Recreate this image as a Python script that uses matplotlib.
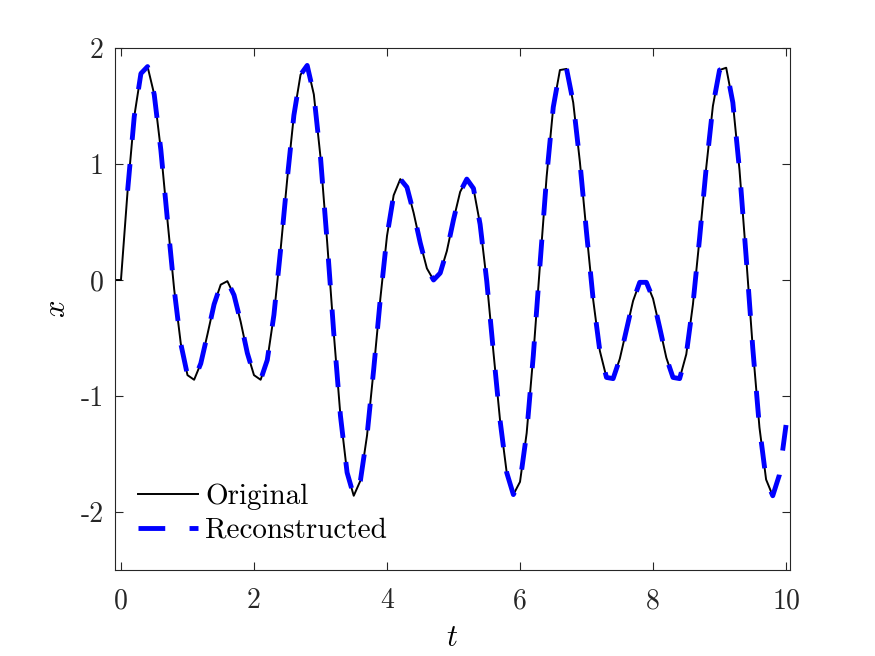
import numpy as np
import matplotlib
matplotlib.use("Agg")
import matplotlib.pyplot as plt

t_grid = np.round(np.arange(0, 101) * 0.1, 1)
x_vals = [0.00, 0.77, 1.41, 1.78, 1.84, 1.60, 1.12, 0.51, -0.08, -0.55,
          -0.82, -0.86, -0.72, -0.47, -0.21, -0.04, -0.01, -0.13, -0.36, -0.63,
          -0.82, -0.86, -0.69, -0.30, 0.26, 0.87, 1.42, 1.77, 1.85, 1.60,
          1.06, 0.33, -0.46, -1.17, -1.66, -1.86, -1.73, -1.34, -0.77, -0.16,
          0.38, 0.73, 0.87, 0.80, 0.58, 0.32, 0.10, 0.00, 0.06, 0.25,
          0.52, 0.76, 0.87, 0.79, 0.48, -0.01, -0.62, -1.21, -1.66, -1.85,
          -1.74, -1.32, -0.65, 0.13, 0.89, 1.49, 1.81, 1.82, 1.53, 1.02,
          0.41, -0.17, -0.61, -0.84, -0.85, -0.68, -0.43, -0.18, -0.02, -0.02,
          -0.16, -0.41, -0.67, -0.84, -0.85, -0.64, -0.21, 0.36, 0.97, 1.50,
          1.81, 1.83, 1.53, 0.95, 0.20, -0.59, -1.27, -1.72, -1.86, -1.68,
          -1.25]

# original: one leading zero sample, ends at t = 9.8
t_orig = np.concatenate([[-0.1], t_grid[:99]])
x_orig = [0.0] + x_vals[:99]
# reconstructed: t = 0.1 ... 10
t_rec = t_grid[1:]
x_rec = x_vals[1:]

xticks = [0, 2, 4, 6, 8, 10]
yticks = [-2, -1, 0, 1, 2]

# --- Style (LaTeX-like look) ---
plt.rcParams['font.family'] = 'serif'
plt.rcParams['font.serif'] = ['cmr10']
plt.rcParams['mathtext.fontset'] = 'cm'
plt.rcParams['axes.unicode_minus'] = False
plt.rcParams['axes.formatter.use_mathtext'] = True

fig = plt.figure(figsize=(8.75, 6.56), dpi=100)
ax = fig.add_axes([0.1314, 0.1311, 0.7715, 0.7957])

ax.plot(t_orig, x_orig, color='black', lw=1.4, label='Original')
ax.plot(t_rec, x_rec, color='blue', lw=3.5, dashes=(5.5, 5), label='Reconstructed')

ax.set_xlim(-0.09, 10.06)
ax.set_ylim(-2.5, 2)
ax.set_xticks(xticks)
ax.set_yticks(yticks)
ax.set_xticklabels([str(v) for v in xticks])
ax.set_yticklabels([str(v) for v in yticks])

grey = '#262626'
ax.tick_params(direction='in', length=6, width=0.8, top=True, right=True,
               labelsize=20, colors=grey)
ax.tick_params(axis='y', pad=8)
ax.tick_params(axis='x', pad=13)
for s in ax.spines.values():
    s.set_color(grey)
    s.set_linewidth(0.8)

ax.set_xlabel('$t$', fontsize=22, labelpad=7)
ax.set_ylabel('$x$', fontsize=22, labelpad=7)

leg = ax.legend(loc='lower left', frameon=False, fontsize=21, handlelength=2.06,
                handletextpad=0.24, labelspacing=0.25, borderaxespad=0,
                borderpad=0, bbox_to_anchor=(0.034, 0.05))

fig.savefig('out.png', dpi=100)
